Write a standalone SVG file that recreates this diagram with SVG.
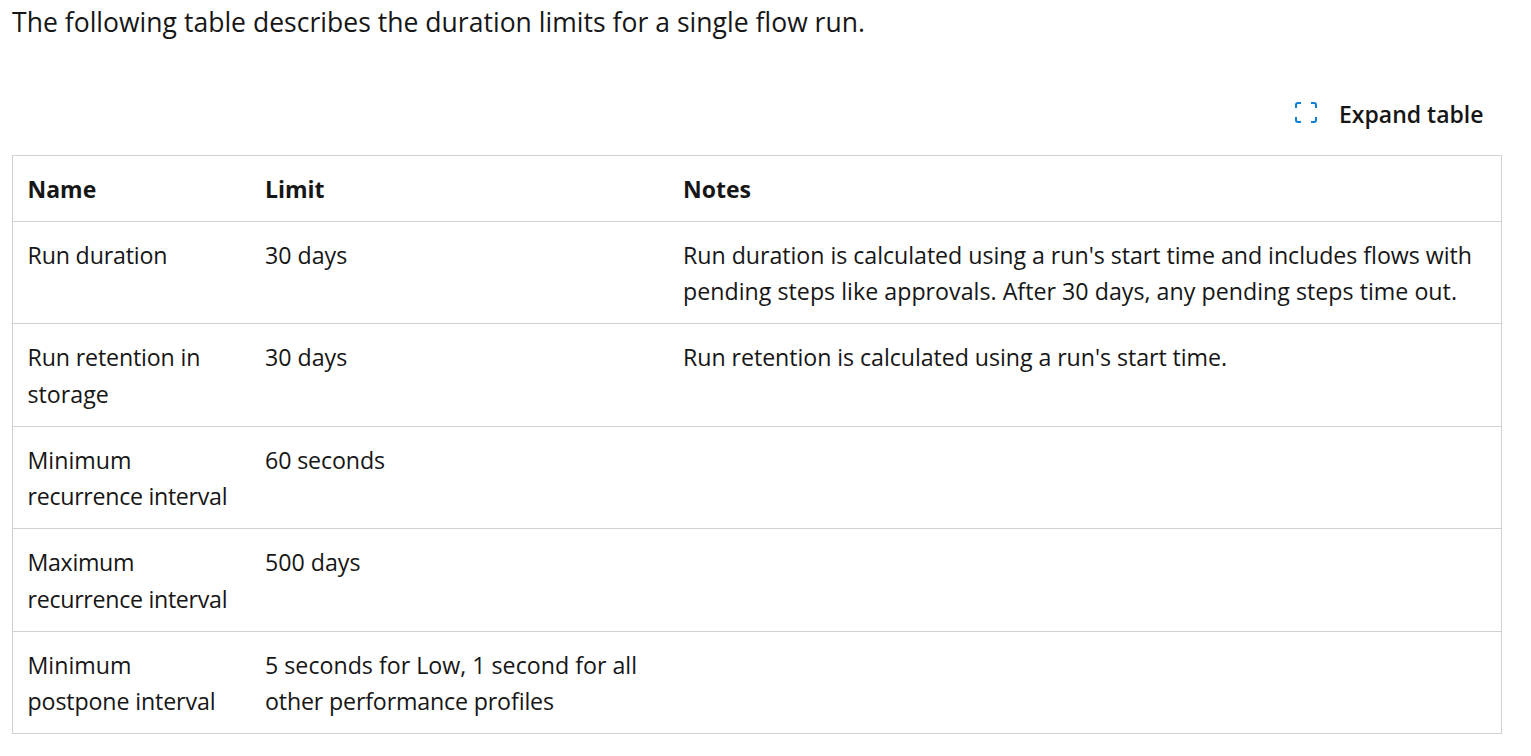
<svg xmlns="http://www.w3.org/2000/svg" width="1531" height="756" viewBox="0 0 1531 756">
<style>
text{font-family:"Open Sans","Noto Sans","Liberation Sans",sans-serif;font-size:23.2px;fill:#161616}
.b{font-weight:700;font-size:23px}
.l{stroke:#d1d1d1;stroke-width:1;fill:none}
</style>
<rect width="1531" height="756" fill="#fff"/>
<text x="12" y="32" textLength="853" style="font-size:26.5px">The following table describes the duration limits for a single flow run.</text>
<g id="expand">
<path d="M1296 108V105Q1296 103 1298 103H1301M1311 103H1314Q1316 103 1316 105V108M1316 117V120Q1316 122 1314 122H1311M1301 122H1298Q1296 122 1296 120V117" fill="none" stroke="#0f7fd6" stroke-width="2"/>
<text class="b" x="1339" y="123" style="font-weight:600">Expand table</text>
</g>
<g id="table">
<rect class="l" x="12.500" y="155.500" width="1489" height="578"/>
<path class="l" d="M13 221.500H1501M13 323.500H1501M13 426.500H1501M13 528.500H1501M13 631.500H1501"/>
</g>
<g id="cells">
<text class="b" x="27.500" y="198">Name</text><text class="b" x="265" y="198">Limit</text><text class="b" x="683" y="198">Notes</text>
<text x="27.500" y="264" textLength="140">Run duration</text><text x="265" y="264">30 days</text>
<text x="683" y="264" textLength="789">Run duration is calculated using a run's start time and includes flows with</text>
<text x="683" y="300" textLength="774">pending steps like approvals. After 30 days, any pending steps time out.</text>
<text x="27.500" y="366" textLength="173">Run retention in</text><text x="27.500" y="403">storage</text><text x="265" y="366">30 days</text>
<text x="683" y="366" textLength="544">Run retention is calculated using a run's start time.</text>
<text x="27.500" y="469">Minimum</text><text x="27.500" y="505" textLength="200">recurrence interval</text><text x="265" y="469" textLength="120">60 seconds</text>
<text x="27.500" y="571" textLength="107">Maximum</text><text x="27.500" y="608" textLength="200">recurrence interval</text><text x="265" y="571">500 days</text>
<text x="27.500" y="674">Minimum</text><text x="27.500" y="710" textLength="188">postpone interval</text>
<text x="265" y="674" textLength="372">5 seconds for Low, 1 second for all</text><text x="265" y="710" textLength="289">other performance profiles</text>
</g>
</svg>
